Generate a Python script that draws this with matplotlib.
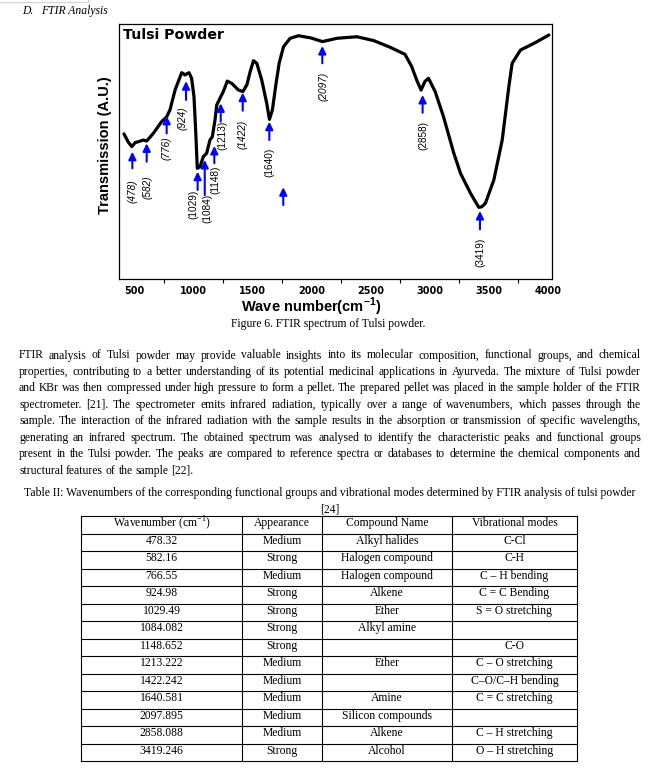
import matplotlib

matplotlib.use("Agg")
import matplotlib.pyplot as plt  # noqa: E402

plt.rcParams["mathtext.fontset"] = "custom"
plt.rcParams["mathtext.rm"] = "Liberation Serif"
plt.rcParams["mathtext.bf"] = "Liberation Sans:bold"

W, H = 660, 770

# FTIR trace (wavenumber in cm-1, transmission in a.u. 0-100)
wavenumber = [415, 450, 481, 510, 534, 579, 607, 663, 733, 776, 804, 847, 874, 903,
              918, 931, 948, 965, 987, 1007, 1021, 1035, 1058, 1086, 1114, 1142, 1162,
              1185, 1199, 1227, 1255, 1289, 1327, 1383, 1420, 1454, 1482, 1510, 1538,
              1580, 1622, 1645, 1670, 1699, 1727, 1764, 1820, 1891, 1962, 1990, 2094,
              2216, 2385, 2526, 2664, 2791, 2848, 2890, 2927, 2960, 2990, 3046, 3117,
              3204, 3260, 3345, 3415, 3440, 3471, 3542, 3613, 3669, 3697, 3768, 3881,
              4008]
transmission = [56.9, 53.8, 51.9, 53.5, 53.8, 54.5, 54.1, 57.1, 61.7, 63.6, 66.3, 74.1,
                77.4, 80.9, 80.5, 80.0, 80.5, 80.9, 78.7, 71.5, 58.4, 43.4, 44.0, 48.0,
                49.3, 54.5, 55.8, 62.4, 68.2, 70.9, 73.5, 77.6, 76.7, 74.1, 73.5, 76.1,
                81.3, 85.6, 84.6, 78.0, 68.9, 62.6, 66.3, 76.1, 84.6, 91.1, 94.4, 95.4,
                94.8, 94.6, 93.1, 94.4, 95.0, 93.5, 90.9, 88.1, 83.3, 78.0, 74.1, 77.5,
                78.7, 73.5, 63.6, 49.3, 41.5, 33.6, 28.1, 28.3, 29.7, 38.8, 54.5, 75.4,
                84.6, 89.8, 92.4, 95.7]

# blue peak arrows (x, tip, tail in data units)
arrow_x = [486, 607, 776, 940, 1038, 1098, 1179, 1233, 1419, 1644, 1762, 2092, 2940, 3425]
arrow_tip = [49.9, 53.2, 64.0, 77.6, 42.1, 46.7, 52.2, 68.9, 73.1, 61.7, 36.0, 91.4, 72.2, 26.7]
arrow_tail = [43.4, 46.0, 57.1, 70.2, 34.9, 32.9, 45.4, 61.7, 66.0, 54.5, 29.0, 84.6, 65.2, 19.5]

peak_labels = ["(478)", "(582)", "(776)", "(924)", "(1029)", "(1084)", "(1148)",
               "(1213)", "(1422)", "(1640)", "(2097)", "(2858)", "(3419)"]
label_x = [489, 612, 776, 912, 1001, 1120, 1185, 1250, 1419, 1644, 2100, 2946, 3431]
label_y = [34.5, 36.1, 51.4, 62.9, 29.4, 27.5, 38.8, 56.5, 56.9, 45.9, 75.7, 56.1, 10.6]
label_style = ["italic", "italic", "italic", "italic", "normal", "normal", "normal",
               "normal", "italic", "normal", "italic", "normal", "normal"]

x_ticks = [500, 1000, 1500, 2000, 2500, 3000, 3500, 4000]
x_minor = [750, 1250, 1750, 2250, 2750, 3250, 3750]

table_header = [r"Wavenumber (cm$^{\mathrm{-1}}$)", "Appearance", "Compound Name",
                "Vibrational modes"]
table_wavenumber = ["478.32", "582.16", "766.55", "924.98", "1029.49", "1084.082",
                    "1148.652", "1213.222", "1422.242", "1640.581", "2097.895",
                    "2858.088", "3419.246"]
table_appearance = ["Medium", "Strong", "Medium", "Strong", "Strong", "Strong", "Strong",
                    "Medium", "Medium", "Medium", "Medium", "Medium", "Strong"]
table_compound = ["Alkyl halides", "Halogen compound", "Halogen compound", "Alkene",
                  "Ether", "Alkyl amine", "", "Ether", "", "Amine",
                  "Silicon compounds", "Alkene", "Alcohol"]
table_modes = ["C-Cl", "C-H", "C \u2013 H bending", "C = C Bending", "S = O stretching",
               "", "C-O", "C \u2013 O stretching", "C\u2013O/C\u2013H bending",
               "C = C stretching", "", "C \u2013 H stretching", "O \u2013 H stretching"]

body_lines = [
    "FTIR analysis of Tulsi powder may provide valuable insights into its molecular composition, functional groups, and chemical",
    "properties, contributing to a better understanding of its potential medicinal applications in Ayurveda. The mixture of Tulsi powder",
    "and KBr was then compressed under high pressure to form a pellet. The prepared pellet was placed in the sample holder of the FTIR",
    "spectrometer. [21]. The spectrometer emits infrared radiation, typically over a range of wavenumbers, which passes through the",
    "sample. The interaction of the infrared radiation with the sample results in the absorption or transmission of specific wavelengths,",
    "generating an infrared spectrum. The obtained spectrum was analysed to identify the characteristic peaks and functional groups",
    "present in the Tulsi powder. The peaks are compared to reference spectra or databases to determine the chemical components and",
    "structural features of the sample [22].",
]

serif = dict(family=["Liberation Serif", "DejaVu Serif"], fontsize=8.4, color="black")
sans = ["Liberation Sans", "DejaVu Sans"]

fig = plt.figure(figsize=(W / 100, H / 100), dpi=100)
renderer = fig.canvas.get_renderer()

# page overlay in pixel coordinates (y down)
ov = fig.add_axes([0, 0, 1, 1])
ov.set_xlim(0, W); ov.set_ylim(H, 0); ov.axis("off")

# faint edge of the previous page element, top left
ov.plot([0, 88, 88], [1.5, 1.5, 0], color="#e8cccc", lw=0.8)

ov.text(22, 14, "D.", style="italic", va="baseline", **serif)
ov.text(41, 14, "FTIR Analysis", style="italic", va="baseline", **serif)
ov.text(328, 327.5, "Figure 6. FTIR spectrum of Tulsi powder.", ha="center",
        va="baseline", **serif)


def put_line(line, y, x0=19, x1=641, justify=True):
    words = line.split(" ")
    items = [ov.text(0, y, w, va="baseline", ha="left", **serif) for w in words]
    widths = [t.get_window_extent(renderer).width for t in items]
    gap = (x1 - x0 - sum(widths)) / (len(words) - 1) if justify else 2.9
    x = x0
    for t, w in zip(items, widths):
        t.set_x(x)
        x += w + gap


for i, line in enumerate(body_lines):
    put_line(line, 358.5 + i * 16.45, justify=i < len(body_lines) - 1)

ov.text(329.5, 496, "Table II: Wavenumbers of the corresponding functional groups and "
        "vibrational modes determined by FTIR analysis of tulsi powder",
        ha="center", va="baseline", **serif)
ov.text(329.5, 512, "[24]", ha="center", va="baseline", **serif)

# table grid
col_edges = [81, 242, 322, 452, 577]
row_top, row_h = 516, 17.5
n_rows = len(table_wavenumber) + 1
for k in range(n_rows + 1):
    ov.plot([col_edges[0], col_edges[-1]], [row_top + k * row_h] * 2, color="black", lw=0.8)
for xe in col_edges:
    ov.plot([xe, xe], [row_top, row_top + n_rows * row_h], color="black", lw=0.8)

rows = [table_header] + [list(r) for r in zip(table_wavenumber, table_appearance,
                                               table_compound, table_modes)]
for r, cells in enumerate(rows):
    yc = row_top + (r + 0.5) * row_h - 1.5
    for c, txt in enumerate(cells):
        xc = (col_edges[c] + col_edges[c + 1]) / 2
        ov.text(xc, yc, txt, ha="center", va="center", **serif)

# FTIR chart
ax = fig.add_axes([119 / W, 1 - 279 / H, 433 / W, 255 / H])
ax.plot(wavenumber, transmission, color="black", lw=2.3, solid_joinstyle="round",
        solid_capstyle="round")
for x, tip, tail in zip(arrow_x, arrow_tip, arrow_tail):
    ax.annotate("", xy=(x, tip), xytext=(x, tail),
                arrowprops=dict(arrowstyle="-|>,head_length=0.45,head_width=0.22",
                                color="#0000ff", lw=1.5, shrinkA=0, shrinkB=0))
for txt, x, y, st in zip(peak_labels, label_x, label_y, label_style):
    ax.text(x, y, txt, rotation=90, ha="center", va="center", fontsize=7.2,
            style=st, family=sans)

ax.text(0.009, 0.94, "Tulsi Powder", transform=ax.transAxes, fontsize=10.2,
        fontweight="bold", family="DejaVu Sans", va="baseline")
ax.set_xlim(373, 4034)
ax.set_ylim(0, 100)
ax.set_yticks([])
ax.set_xticks(x_ticks)
ax.set_xticklabels([str(t) for t in x_ticks], fontsize=7, fontweight="bold",
                   family="DejaVu Sans")
ax.set_xticks(x_minor, minor=True)
ax.tick_params(axis="x", which="major", length=0, pad=5)
ax.tick_params(axis="x", which="minor", length=3, width=0.8, direction="out")
for s in ax.spines.values():
    s.set_linewidth(0.9)
ax.set_xlabel(r"Wave number(cm$^{\mathbf{-1}}$)", fontsize=10.5, fontweight="bold",
              family=sans)
ax.xaxis.set_label_coords(0.443, -0.066)
ax.set_ylabel("Transmission (A.U.)", fontsize=10.5, fontweight="bold", family=sans)
ax.yaxis.set_label_coords(-0.016, 0.525)

fig.savefig("out.png", dpi=100)
